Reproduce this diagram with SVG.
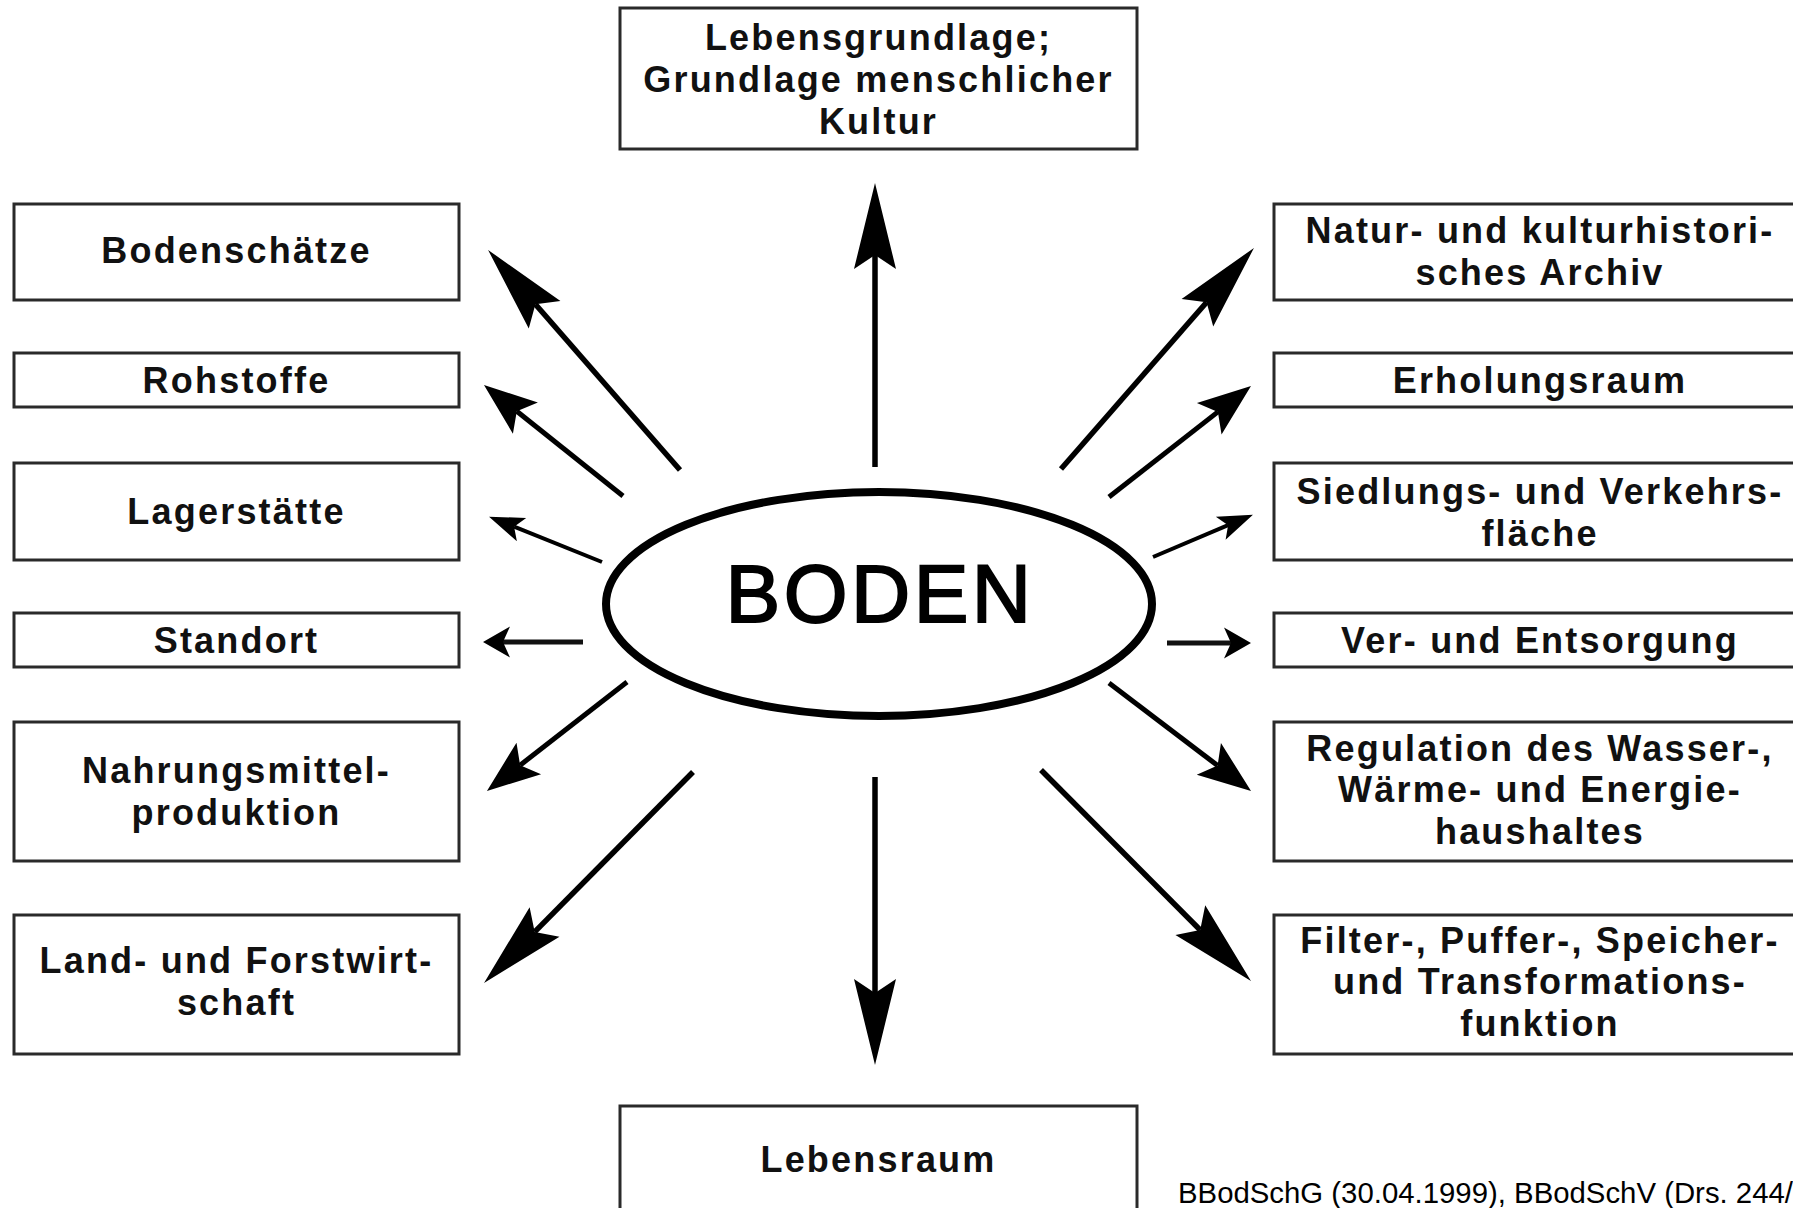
<svg xmlns="http://www.w3.org/2000/svg" width="1793" height="1208" viewBox="0 0 1793 1208">
<style>
.box{fill:#fff;stroke:#2a2a2a;stroke-width:3}
.lbl{font-family:"Liberation Sans",Arial,sans-serif;font-weight:bold;font-size:36px;letter-spacing:2.2px;fill:#111;text-anchor:middle}
.big{stroke:#000;stroke-width:5.5;fill:none;marker-end:url(#mBig)}
.med{stroke:#000;stroke-width:5;fill:none;marker-end:url(#mMed)}
.sd{stroke:#000;stroke-width:4;fill:none;marker-end:url(#mSd)}
.sh{stroke:#111;stroke-width:5;fill:none;marker-end:url(#mSh)}
</style>
<defs>
<marker id="mBig" markerUnits="userSpaceOnUse" viewBox="-20 -25 100 50" refX="0" refY="0" markerWidth="100" markerHeight="50" orient="auto" overflow="visible"><path d="M72,0 L-14,-21 L0,0 L-14,21 Z" fill="#000"/></marker>
<marker id="mMed" markerUnits="userSpaceOnUse" viewBox="-20 -25 80 50" refX="0" refY="0" markerWidth="80" markerHeight="50" orient="auto" overflow="visible"><path d="M42,0 L-11,-20 L0,0 L-11,20 Z" fill="#000"/></marker>
<marker id="mSd" markerUnits="userSpaceOnUse" viewBox="-20 -20 60 40" refX="0" refY="0" markerWidth="60" markerHeight="40" orient="auto" overflow="visible"><path d="M27,0 L-8,-12.5 L0,0 L-8,12.5 Z" fill="#000"/></marker>
<marker id="mSh" markerUnits="userSpaceOnUse" viewBox="-20 -20 60 40" refX="0" refY="0" markerWidth="60" markerHeight="40" orient="auto" overflow="visible"><path d="M20,0 L-7,-15.5 L0,0 L-7,15.5 Z" fill="#000"/></marker>
</defs>
<rect x="0" y="0" width="1793" height="1208" fill="#fff"/>

<g id="connectors">
<line class="big" x1="875" y1="467" x2="875" y2="255"/>
<line class="big" x1="875" y1="777" x2="875" y2="993"/>
<line class="big" x1="680" y1="470" x2="535.4" y2="304.2"/>
<line class="med" x1="623" y1="496" x2="516.8" y2="411.2"/>
<line class="sd" x1="602" y1="562" x2="514.1" y2="526.7"/>
<line class="sh" x1="583" y1="642" x2="503" y2="642"/>
<line class="med" x1="627" y1="682" x2="520.1" y2="765.2"/>
<line class="big" x1="693" y1="772" x2="534.7" y2="931.9"/>
<line class="big" x1="1061" y1="469" x2="1206.6" y2="302.2"/>
<line class="med" x1="1109" y1="497" x2="1217.9" y2="411.9"/>
<line class="sd" x1="1153" y1="557" x2="1228.1" y2="525.2"/>
<line class="sh" x1="1167" y1="643" x2="1231" y2="643"/>
<line class="med" x1="1109" y1="683" x2="1217.6" y2="765.6"/>
<line class="big" x1="1041" y1="770" x2="1200.2" y2="930"/>
</g>

<g id="boden">
<ellipse cx="879" cy="604" rx="273" ry="112" fill="#fff" stroke="#000" stroke-width="8"/>
<text x="880" y="622" font-family="Liberation Sans,Arial,sans-serif" font-size="82" letter-spacing="3.5" text-anchor="middle" fill="#000" stroke="#000" stroke-width="2">BODEN</text>
</g>

<g id="lebensgrundlage">
<rect class="box" x="620" y="8" width="517" height="141"/>
<text class="lbl" x="878.5" y="49.5">Lebensgrundlage;</text>
<text class="lbl" x="878.5" y="91.5">Grundlage menschlicher</text>
<text class="lbl" x="878.5" y="133.5">Kultur</text>
</g>

<g id="lebensraum">
<rect class="box" x="620" y="1106" width="517" height="110"/>
<text class="lbl" x="878.5" y="1172">Lebensraum</text>
</g>

<g id="bodenschaetze">
<rect class="box" x="14" y="204" width="445" height="96"/>
<text class="lbl" x="236.5" y="263">Bodenschätze</text>
</g>
<g id="rohstoffe">
<rect class="box" x="14" y="353" width="445" height="54"/>
<text class="lbl" x="236.5" y="393">Rohstoffe</text>
</g>
<g id="lagerstaette">
<rect class="box" x="14" y="463" width="445" height="97"/>
<text class="lbl" x="236.5" y="523.5">Lagerstätte</text>
</g>
<g id="standort">
<rect class="box" x="14" y="613" width="445" height="54"/>
<text class="lbl" x="236.5" y="653">Standort</text>
</g>
<g id="nahrungsmittel">
<rect class="box" x="14" y="722" width="445" height="139"/>
<text class="lbl" x="236.5" y="783">Nahrungsmittel-</text>
<text class="lbl" x="236.5" y="825">produktion</text>
</g>
<g id="landforst">
<rect class="box" x="14" y="915" width="445" height="139"/>
<text class="lbl" x="236.5" y="973">Land- und Forstwirt-</text>
<text class="lbl" x="236.5" y="1015">schaft</text>
</g>

<g id="archiv">
<rect class="box" x="1274" y="204" width="530" height="96"/>
<text class="lbl" x="1540" y="243">Natur- und kulturhistori-</text>
<text class="lbl" x="1540" y="285">sches Archiv</text>
</g>
<g id="erholungsraum">
<rect class="box" x="1274" y="353" width="530" height="54"/>
<text class="lbl" x="1540" y="393">Erholungsraum</text>
</g>
<g id="siedlung">
<rect class="box" x="1274" y="463" width="530" height="97"/>
<text class="lbl" x="1540" y="503.5">Siedlungs- und Verkehrs-</text>
<text class="lbl" x="1540" y="545.5">fläche</text>
</g>
<g id="versorgung">
<rect class="box" x="1274" y="613" width="530" height="54"/>
<text class="lbl" x="1540" y="653">Ver- und Entsorgung</text>
</g>
<g id="regulation">
<rect class="box" x="1274" y="722" width="530" height="139"/>
<text class="lbl" x="1540" y="761">Regulation des Wasser-,</text>
<text class="lbl" x="1540" y="802">Wärme- und Energie-</text>
<text class="lbl" x="1540" y="844">haushaltes</text>
</g>
<g id="filter">
<rect class="box" x="1274" y="915" width="530" height="139"/>
<text class="lbl" x="1540" y="953">Filter-, Puffer-, Speicher-</text>
<text class="lbl" x="1540" y="994">und Transformations-</text>
<text class="lbl" x="1540" y="1036">funktion</text>
</g>

<text id="quelle" x="1178" y="1203" font-family="Liberation Sans,Arial,sans-serif" font-size="29" textLength="615" lengthAdjust="spacingAndGlyphs" fill="#000">BBodSchG (30.04.1999), BBodSchV (Drs. 244/</text>
</svg>
